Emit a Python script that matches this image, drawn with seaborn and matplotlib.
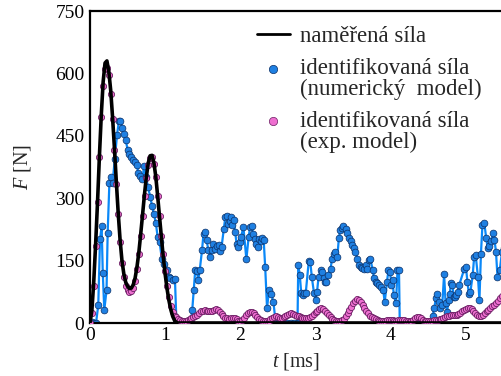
import numpy as np
import pandas as pd
import matplotlib
matplotlib.use("Agg")
import matplotlib.pyplot as plt
from matplotlib.lines import Line2D
from matplotlib.legend_handler import HandlerLine2D
import seaborn as sns

# ---- data ----
dt = 0.025  # ms, sampling step of measured / exp-model force

measured_force = [0, 30, 100, 190, 290, 400, 500, 580, 625, 630,
                  605, 560, 495, 420, 340, 265, 200, 150, 118, 98,
                  88, 83, 84, 92, 108, 135, 170, 215, 262, 310,
                  352, 385, 402, 403, 385, 352, 305, 255, 205, 158,
                  117, 82, 54, 32, 16, 6, 1, 0]
measured_end_t = 5.6

exp_model_force = [
    0, 25, 90, 185, 290, 400, 495, 570, 610, 612,
    595, 550, 490, 415, 335, 262, 195, 145, 110, 90,
    80, 75, 76, 85, 102, 130, 165, 210, 258, 305,
    348, 380, 396, 398, 382, 350, 305, 258, 210, 165,
    125, 90, 62, 40, 26, 18, 14,
    10, 7, 5, 5, 6, 8, 10, 12, 14, 16, 20, 24, 28, 30, 31, 30, 28, 28,
    30, 32, 33, 31, 27, 22, 17, 13, 11, 10, 11, 13, 12, 9, 6, 5, 8, 13,
    19, 24, 27, 27, 24, 19, 14, 10, 7, 5, 4, 4, 6, 9, 12, 15, 16, 14,
    12, 12, 14, 17, 20, 22, 23, 22, 20, 18, 17, 15, 13, 12, 12, 13, 15,
    18, 22, 26, 30, 33, 35, 34, 30, 25, 19, 14, 10, 7, 5, 4, 5, 7, 10,
    16, 23, 31, 39, 47, 53, 57, 56, 51, 44, 37, 30, 24, 18, 14, 11, 9,
    7, 6, 5, 5, 6, 7, 8, 8, 7, 6, 6, 7, 8, 8, 7, 5, 4, 4, 5, 8, 12, 15,
    15, 12, 8, 5, 4, 4, 5, 6, 7, 7, 8, 9, 10, 12, 14, 16, 18, 19, 19, 19,
    20, 22, 25, 29, 32, 34, 35, 35, 33, 29, 24, 20, 18, 18, 20, 24, 28,
    32, 36, 40, 44, 48, 54, 60, 66]

num_model_t = [
    0.0, 0.02, 0.05, 0.08, 0.11, 0.133, 0.155, 0.17, 0.19, 0.22, 0.235,
    0.258, 0.28, 0.30, 0.33, 0.36, 0.385, 0.405, 0.43, 0.45, 0.475, 0.50,
    0.52, 0.545, 0.57, 0.595, 0.62, 0.645, 0.67, 0.695, 0.72, 0.745, 0.77,
    0.80, 0.825, 0.85, 0.875, 0.90, 0.925, 0.955, 0.985, 1.02, 1.045, 1.07,
    1.10, 1.13, 1.15, 1.2, 1.25, 1.3, 1.34, 1.36, 1.38, 1.40, 1.42, 1.44,
    1.46, 1.49, 1.51, 1.53, 1.55, 1.575, 1.60, 1.62, 1.64, 1.665, 1.69,
    1.71, 1.73, 1.75, 1.78, 1.80, 1.82, 1.84, 1.86, 1.875, 1.895, 1.91,
    1.93, 1.95, 1.97, 1.99, 2.01, 2.04, 2.08, 2.11, 2.13, 2.15, 2.17, 2.19,
    2.21, 2.23, 2.25, 2.27, 2.29, 2.31, 2.33, 2.355, 2.38, 2.41, 2.44, 2.47,
    2.52, 2.57, 2.62, 2.67, 2.72, 2.76, 2.77, 2.79, 2.81, 2.83, 2.85, 2.87,
    2.91, 2.93, 2.95, 2.98, 3.0, 3.02, 3.04, 3.07, 3.09, 3.11, 3.13, 3.145,
    3.16, 3.2, 3.22, 3.24, 3.26, 3.29, 3.31, 3.33, 3.35, 3.37, 3.40, 3.42,
    3.44, 3.465, 3.49, 3.51, 3.53, 3.555, 3.58, 3.60, 3.62, 3.64, 3.665,
    3.69, 3.71, 3.73, 3.76, 3.78, 3.80, 3.82, 3.85, 3.87, 3.90, 3.92, 3.95,
    3.97, 3.99, 4.01, 4.025, 4.04, 4.07, 4.09, 4.11, 4.12, 4.17, 4.22,
    4.27, 4.32, 4.37, 4.42, 4.47, 4.52, 4.56, 4.58, 4.60, 4.62, 4.64, 4.66,
    4.685, 4.71, 4.73, 4.75, 4.77, 4.785, 4.80, 4.82, 4.84, 4.855, 4.87,
    4.89, 4.91, 4.98, 5.00, 5.02, 5.04, 5.06, 5.09, 5.11, 5.13, 5.16, 5.18,
    5.20, 5.22, 5.245, 5.27, 5.29, 5.31, 5.335, 5.36, 5.38, 5.40, 5.42,
    5.45, 5.48, 5.50]
num_model_force = [
    0, 2, 0, 0, 43, 201, 232, 120, 31, 79, 217,
    337, 352, 336, 395, 453, 486, 485, 468, 455, 440, 417,
    406, 400, 393, 386, 380, 360, 353, 345, 377, 350, 328,
    304, 282, 262, 241, 207, 195, 155, 143, 128, 110, 107,
    103, 105, 0, 0, 0, 0, 0, 31, 79, 128, 124, 104,
    128, 175, 215, 219, 199, 175, 158, 175, 191, 177, 185,
    188, 172, 183, 225, 255, 257, 237, 245, 255, 235, 247,
    219, 191, 183, 195, 207, 231, 153, 207, 231, 233, 215, 203,
    191, 183, 202, 196, 205, 200, 135, 35, 79, 70, 50, 0,
    0, 0, 0, 0, 0, 0, 139, 116, 71, 67, 71, 73,
    149, 147, 111, 71, 55, 75, 111, 127, 123, 107, 99, 99,
    115, 131, 155, 167, 171, 159, 204, 224, 229, 232, 226, 216,
    205, 196, 188, 180, 171, 155, 139, 135, 133, 131, 139,
    131, 151, 155, 127, 107, 99, 95, 91, 87, 79, 50, 99,
    127, 123, 91, 103, 67, 47, 127, 127, 0, 0, 0,
    0, 0, 0, 0, 0, 0, 18, 37, 59, 69, 50, 35,
    43, 117, 47, 27, 55, 69, 95, 91, 62, 62, 67,
    75, 91, 131, 135, 99, 69, 75, 115, 159, 163, 111, 55,
    167, 236, 240, 204, 180, 184, 196, 216, 200, 171, 111,
    127, 171, 180]

y_ticks = [0, 150, 300, 450, 600, 750]
x_ticks = [0, 1, 2, 3, 4, 5]
legend_labels = ["naměřená síla",
                 "identifikovaná síla\n(numerický  model)",
                 "identifikovaná síla\n(exp. model)"]

# ---- frames ----
meas_t = np.concatenate([np.arange(len(measured_force)) * dt, [measured_end_t]])
df_meas = pd.DataFrame({"t": meas_t, "F": list(measured_force) + [0]})
df_exp = pd.DataFrame({"t": np.arange(len(exp_model_force)) * dt, "F": exp_model_force})
df_num = pd.DataFrame({"t": num_model_t, "F": num_model_force})

# ---- style ----
sns.set_theme(style="white")
plt.rcParams["font.family"] = ["Liberation Serif", "DejaVu Serif"]
plt.rcParams["mathtext.fontset"] = "custom"
plt.rcParams["mathtext.it"] = "Liberation Serif:italic"
plt.rcParams["mathtext.rm"] = "Liberation Serif"

blue_line = "#0a88f8"
blue_fill = "#1f80e2"
blue_edge = "#0b2f66"
pink_fill = "#ee6fd0"
pink_edge = "#6a1f63"

LEG_FS = 16.5

fig = plt.figure(figsize=(5.01, 3.76), dpi=100)
ax = fig.add_axes([90 / 501, 1 - 323 / 376, 1 - 90 / 501 + 0.002, (323 - 11) / 376])

sns.lineplot(data=df_num, x="t", y="F", ax=ax, sort=False, estimator=None,
             color=blue_line, lw=1.6, marker="o", markersize=4.9,
             markerfacecolor=blue_fill, markeredgecolor=blue_edge,
             markeredgewidth=0.5, zorder=2, legend=False)
sns.scatterplot(data=df_exp, x="t", y="F", ax=ax, s=20, color=pink_fill,
                edgecolor=pink_edge, linewidth=0.6, zorder=3, legend=False)
sns.lineplot(data=df_meas, x="t", y="F", ax=ax, sort=False, estimator=None,
             color="black", lw=2.6, zorder=4, legend=False)

ax.set_xlim(0, 5.48)
ax.set_ylim(0, 750)
ax.set_xticks(x_ticks)
ax.set_yticks(y_ticks)
ax.tick_params(direction="in", length=5, width=1.0, labelsize=14,
               colors="black", pad=4)
ax.tick_params(axis="x", pad=3)
for side in ["left", "bottom", "top"]:
    ax.spines[side].set_visible(True)
    ax.spines[side].set_color("black")
    ax.spines[side].set_linewidth(1.6)
ax.spines["right"].set_visible(False)

ax.set_xlabel(r"$t$ [ms]", fontsize=14.5, labelpad=5)
ax.set_ylabel(r"$F$ [N]", fontsize=14.5, labelpad=16)


class TopAlignedHandler(HandlerLine2D):
    """Put the marker level with the first line of a two-line label."""
    def __init__(self, dy, **kw):
        super().__init__(**kw)
        self.dy = dy

    def create_artists(self, legend, orig_handle, xdescent, ydescent, width,
                       height, fontsize, trans):
        arts = super().create_artists(legend, orig_handle, xdescent, ydescent,
                                      width, height, fontsize, trans)
        for a in arts:
            a.set_ydata(np.asarray(a.get_ydata(), dtype=float) + self.dy)
        return arts


handles = [
    Line2D([], [], color="black", lw=2.0),
    Line2D([], [], ls="none", marker="o", markersize=6,
           markerfacecolor=blue_fill, markeredgecolor=blue_edge, markeredgewidth=0.5),
    Line2D([], [], ls="none", marker="o", markersize=6,
           markerfacecolor=pink_fill, markeredgecolor=pink_edge, markeredgewidth=0.5),
]
hmap = {handles[1]: TopAlignedHandler(dy=0.46 * LEG_FS),
        handles[2]: TopAlignedHandler(dy=0.46 * LEG_FS)}
leg = ax.legend(handles, legend_labels, loc="upper left", bbox_to_anchor=(0.405, 0.952),
                frameon=False, fontsize=LEG_FS, handlelength=1.45, handletextpad=0.45,
                labelspacing=0.5, borderpad=0, borderaxespad=0, handler_map=hmap)
for txt in leg.get_texts():
    txt.set_linespacing(0.95)

fig.savefig("out.png", dpi=100)
